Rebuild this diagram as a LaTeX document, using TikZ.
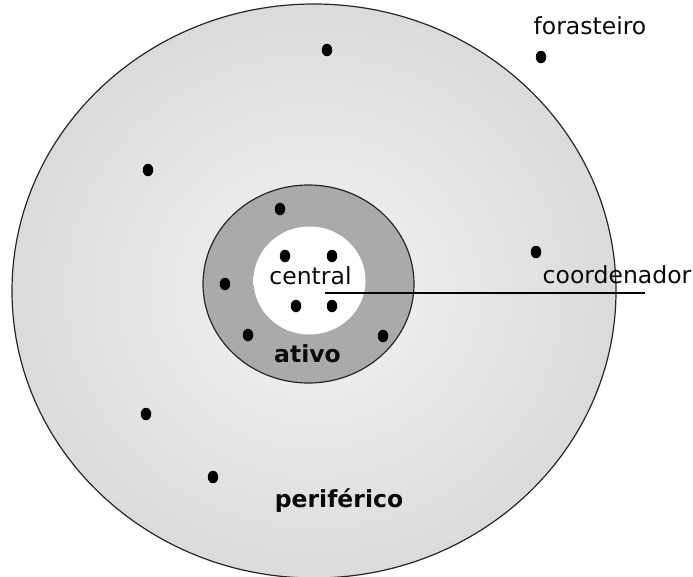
\documentclass[tikz,border=0pt]{standalone}
\usepackage{fontspec}
\setmainfont{DejaVu Sans}
\usetikzlibrary{shapes.geometric}
\definecolor{ringgray}{RGB}{170,170,170}
\definecolor{outeredge}{RGB}{194,194,194}
\definecolor{outercenter}{RGB}{238,238,238}
\definecolor{inkc}{RGB}{10,10,10}
\pgfdeclareradialshading{outershade}{\pgfpoint{0bp}{0bp}}{color(0bp)=(outercenter); color(6bp)=(outercenter); color(50bp)=(outeredge)}
\pgfdeclareradialshading{innershade}{\pgfpoint{0bp}{0bp}}{color(0bp)=(white); color(41bp)=(white); color(50bp)=(ringgray)}
\tikzset{
  dot/.style={ellipse, fill=black, minimum width=10.5pt, minimum height=12.5pt, inner sep=0pt},
  lbl/.style={anchor=base, inner sep=0pt, text=inkc, font=\fontsize{23.5}{28}\selectfont},
  blbl/.style={lbl, font=\fontsize{23.5}{28}\selectfont\bfseries},
  ring/.style={ellipse, inner sep=0pt, draw=black!85, line width=1.2pt}
}
\begin{document}
\begin{tikzpicture}[x=1pt,y=-1pt]
\useasboundingbox (0,0) rectangle (693,576);
\node[ring, shading=outershade, minimum width=604pt, minimum height=574pt] (outer) at (314,291) {};
\node[ring, fill=ringgray, minimum width=211pt, minimum height=198pt] (active) at (308.5,284) {};
\node[ellipse, inner sep=0pt, shading=innershade, minimum width=112pt, minimum height=108pt] (core) at (309.5,280.5) {};
% dots
\node[dot] (p1) at (327,50) {};
\node[dot] (p2) at (148,170) {};
\node[dot] (p3) at (536,252) {};
\node[dot] (p4) at (146,414) {};
\node[dot] (p5) at (213,477) {};
\node[dot] (f1) at (541,57) {};
\node[dot] (a1) at (280,209) {};
\node[dot] (a2) at (225,284) {};
\node[dot] (a3) at (248,335) {};
\node[dot] (a4) at (383,336) {};
\node[dot] (c1) at (285,256) {};
\node[dot] (c2) at (332,256) {};
\node[dot] (c3) at (296,306) {};
\node[dot] (c4) at (332,306) {};
% connector
\coordinate (lineStart) at (325,292.5);
\coordinate (lineEnd) at (645,292.5);
\draw[line width=2pt, black] (lineStart) -- (lineEnd);
% labels
\node[lbl] (tcentral) at (310.5,284) {central};
\node[blbl] (tativo) at (307.5,362) {ativo};
\node[blbl] (tperif) at (339,507) {periférico};
\node[lbl] (tforas) at (590,34) {forasteiro};
\node[lbl] (tcoord) at (617,283) {coordenador};
\end{tikzpicture}
\end{document}
